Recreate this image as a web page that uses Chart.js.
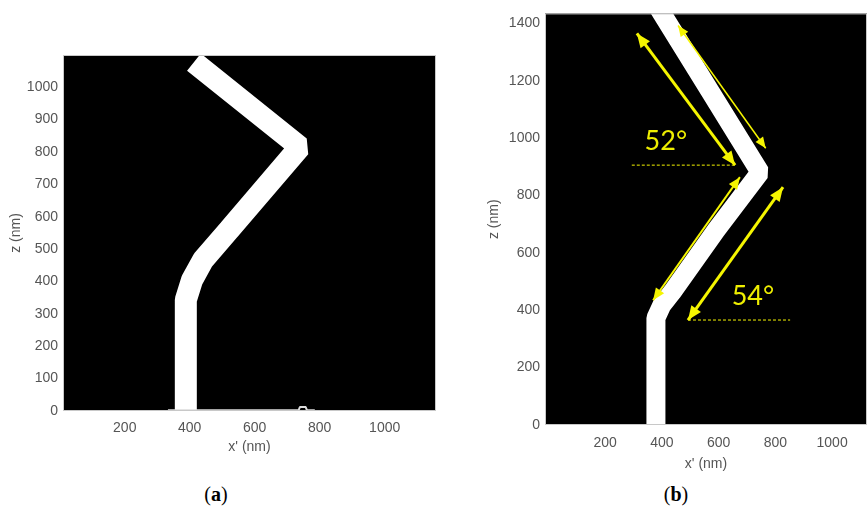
<!DOCTYPE html>
<html>
<head>
<meta charset="utf-8">
<script src="https://cdn.jsdelivr.net/npm/chart.js@4.4.1/dist/chart.umd.min.js"></script>
<style>
  body { margin: 0; background: #fff; width: 867px; height: 511px; overflow: hidden; position: relative; }
  #left { position: absolute; left: 0; top: 0; }
  #right { position: absolute; left: 470px; top: 0; }
  .panel-label { position: absolute; top: 484px; line-height: 20px; font-family: "Liberation Serif", serif; font-size: 20px; color: #000; transform: translateX(-50%); }
</style>
</head>
<body>
<canvas id="left" width="445" height="470"></canvas>
<canvas id="right" width="397" height="480"></canvas>
<div class="panel-label" style="left:216px">(<b>a</b>)</div>
<div class="panel-label" style="left:676px">(<b>b</b>)</div>
<script>
// tick values
const ticksAX = [200, 400, 600, 800, 1000];
const ticksAZ = [0, 100, 200, 300, 400, 500, 600, 700, 800, 900, 1000];
const ticksBX = [200, 400, 600, 800, 1000];
const ticksBZ = [0, 200, 400, 600, 800, 1000, 1200, 1400];

// (a) centre line of the white band (x' and z in nm)
const bandAX = [388, 388, 407, 441, 521, 739, 413];
const bandAZ = [-30, 343, 404, 466, 559, 815, 1077];
// (a) thin line along the bottom
const baseAX = [333, 735, 739, 757, 761, 785];
const baseAZ = [2, 2, 12, 12, 2, 2];

// (b) centre line of the white band
const bandBX = [379, 379, 400, 436, 591, 746, 573, 400, 372];
const bandBZ = [-30, 373, 418, 463, 679, 881, 1158, 1435, 1480];

// (b) yellow double arrows: start / end
const arrowX0 = [312, 457, 675, 827];
const arrowZ0 = [1365, 1393, 864, 829];
const arrowX1 = [658, 766, 369, 492];
const arrowZ1 = [906, 965, 435, 366];

// (b) dashed reference lines and angle labels
const dashX0 = [294, 492];
const dashX1 = [658, 852];
const dashZ = [906, 366];
const angleText = ['52°', '54°'];
const angleX = [414, 721];
const angleZ = [989, 449];

const zip = (xs, ys) => xs.map((x, i) => ({ x: x, y: ys[i] }));

const textColor = '#555555';
const tickFont = { family: '"Liberation Sans", Arial, sans-serif', size: 14 };

// fond noir de la zone + cadre gris
const panelBox = {
  id: 'panelBox',
  beforeDraw(chart) {
    const { ctx, chartArea: a } = chart;
    ctx.save();
    ctx.fillStyle = '#000';
    ctx.fillRect(a.left, a.top, a.right - a.left, a.bottom - a.top);
    ctx.restore();
  },
  afterDatasetsDraw(chart) {
    const { ctx, chartArea: a } = chart;
    ctx.save();
    ctx.strokeStyle = '#c8c8c8';
    ctx.lineWidth = 1;
    ctx.strokeRect(a.left + 0.5, a.top + 0.5, a.right - a.left - 1, a.bottom - a.top - 1);
    ctx.restore();
  }
};

function drawHead(ctx, tipX, tipY, fromX, fromY, size, color) {
  const ang = Math.atan2(tipY - fromY, tipX - fromX);
  ctx.save();
  ctx.translate(tipX, tipY);
  ctx.rotate(ang);
  ctx.beginPath();
  ctx.moveTo(0, 0);
  ctx.lineTo(-size, -size * 0.42);
  ctx.lineTo(-size, size * 0.42);
  ctx.closePath();
  ctx.fillStyle = color;
  ctx.fill();
  ctx.restore();
}

// pointes de fleches + textes des angles
const annotations = {
  id: 'annotations',
  afterDatasetsDraw(chart) {
    const { ctx } = chart;
    chart.data.datasets.forEach((ds, i) => {
      if (!ds.arrowHead) return;
      const pts = chart.getDatasetMeta(i).data;
      const a = pts[0], b = pts[pts.length - 1];
      drawHead(ctx, a.x, a.y, b.x, b.y, ds.arrowHead, ds.borderColor);
      drawHead(ctx, b.x, b.y, a.x, a.y, ds.arrowHead, ds.borderColor);
    });
    if (!chart.options.angleLabels) return;
    const sx = chart.scales.x, sy = chart.scales.y;
    ctx.save();
    ctx.fillStyle = '#eeee00';
    ctx.font = '27px Lato, "Open Sans", sans-serif';
    ctx.textAlign = 'center';
    ctx.textBaseline = 'middle';
    angleText.forEach((t, i) => {
      ctx.fillText(t, sx.getPixelForValue(angleX[i]), sy.getPixelForValue(angleZ[i]));
    });
    ctx.restore();
  }
};

function lineSet(points, color, width, extra) {
  return Object.assign({
    data: points,
    showLine: true,
    borderColor: color,
    backgroundColor: color,
    borderWidth: width,
    pointRadius: 0,
    borderJoinStyle: 'bevel',
    clip: 0
  }, extra || {});
}

function scales(xr, yr) {
  return {
    x: {
      type: 'linear', min: xr.min, max: xr.max,
      grid: { display: false, drawTicks: false }, border: { display: false },
      afterBuildTicks(s) { s.ticks = xr.ticks.map(v => ({ value: v })); },
      ticks: { padding: xr.pad, color: textColor, font: tickFont, maxRotation: 0, autoSkip: false,
               callback: v => String(v) },
      title: { display: true, text: "x' (nm)", color: textColor, font: tickFont, padding: { top: 0, bottom: xr.titlePad } },
      afterFit(s) { s.height = xr.size; }
    },
    y: {
      type: 'linear', min: yr.min, max: yr.max,
      grid: { display: false, drawTicks: false }, border: { display: false },
      afterBuildTicks(s) { s.ticks = yr.ticks.map(v => ({ value: v })); },
      ticks: { padding: 5, color: textColor, font: tickFont, autoSkip: false, callback: v => String(v) },
      title: { display: true, text: 'z (nm)', color: textColor, font: tickFont, padding: { top: yr.titlePad, bottom: 0 } },
      afterFit(s) { s.width = yr.size; }
    }
  };
}

// le premier dataset est dessiné au-dessus : la bande blanche passe en dernier
new Chart(document.getElementById('left'), {
  type: 'scatter',
  data: {
    datasets: [
      lineSet(zip(baseAX, baseAZ), '#dcdcdc', 2),
      lineSet(zip(bandAX, bandAZ), '#ffffff', 22)
    ]
  },
  options: {
    responsive: false, animation: false, devicePixelRatio: 1,
    layout: { padding: { top: 55, right: 9, left: 0, bottom: 0 } },
    plugins: { legend: { display: false }, tooltip: { enabled: false } },
    scales: scales({ min: 10, max: 1158, ticks: ticksAX, pad: 9, titlePad: 14, size: 59 },
                   { min: 0, max: 1099, ticks: ticksAZ, titlePad: 8, size: 63 })
  },
  plugins: [panelBox, annotations]
});

const yellow = '#f5f500';
const bDatasets = [];
const arrowWidths = [3, 1.5, 2, 3];
const arrowSizes = [14, 11, 12, 14];
arrowX0.forEach((x, i) => {
  bDatasets.push(lineSet([{ x: x, y: arrowZ0[i] }, { x: arrowX1[i], y: arrowZ1[i] }], yellow, arrowWidths[i],
    { arrowHead: arrowSizes[i], borderCapStyle: 'butt' }));
});
dashX0.forEach((x, i) => {
  bDatasets.push(lineSet([{ x: x, y: dashZ[i] }, { x: dashX1[i], y: dashZ[i] }], yellow, 1, { borderDash: [3, 2] }));
});
bDatasets.push(lineSet(zip(bandBX, bandBZ), '#ffffff', 19));

new Chart(document.getElementById('right'), {
  type: 'scatter',
  data: { datasets: bDatasets },
  options: {
    responsive: false, animation: false, devicePixelRatio: 1,
    angleLabels: true,
    layout: { padding: { top: 13, right: 0, left: 0, bottom: 0 } },
    plugins: { legend: { display: false }, tooltip: { enabled: false } },
    scales: scales({ min: -12, max: 1123, ticks: ticksBX, pad: 10, titlePad: 7, size: 55 },
                   { min: 0, max: 1435, ticks: ticksBZ, titlePad: 16, size: 75 })
  },
  plugins: [panelBox, annotations]
});
</script>
</body>
</html>
